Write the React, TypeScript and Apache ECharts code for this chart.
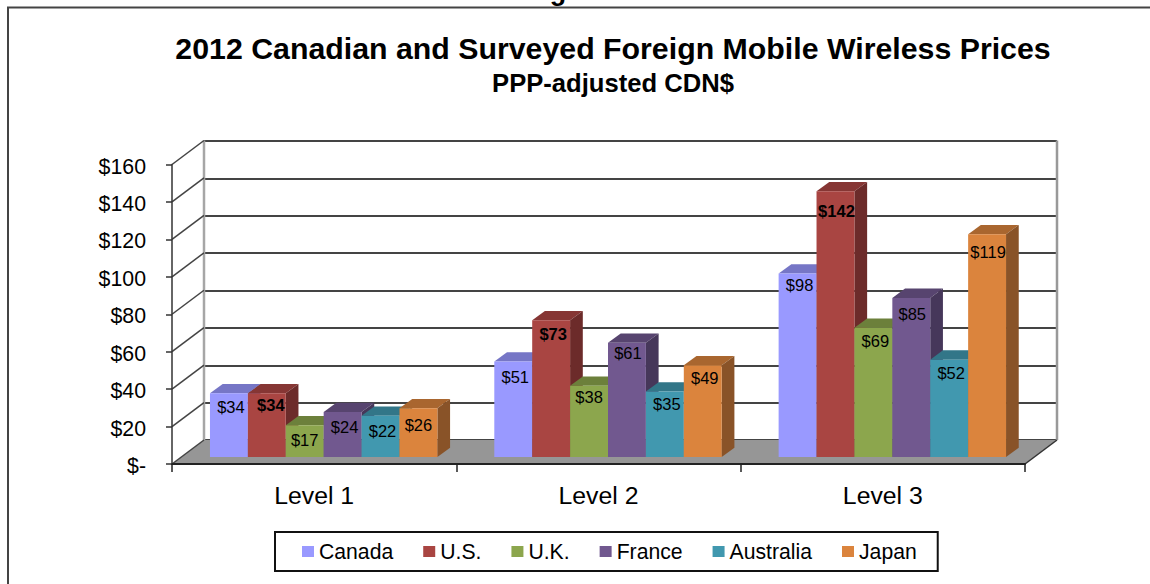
import React, { useEffect, useRef } from "react";
import * as echarts from "echarts";

const levels = ["Level 1", "Level 2", "Level 3"];
const countries = ["Canada", "U.S.", "U.K.", "France", "Australia", "Japan"];
const canada = [34, 51, 98];
const us = [34, 73, 142];
const uk = [17, 38, 69];
const france = [24, 61, 85];
const australia = [22, 35, 52];
const japan = [26, 49, 119];
const seriesValues = [canada, us, uk, france, australia, japan];
const yTicks = [0, 20, 40, 60, 80, 100, 120, 140, 160];
const colors = ["#9999FF", "#A94542", "#8CA64D", "#71588F", "#4198AF", "#DB843D"];
const topColors = ["#7676C6", "#863634", "#6C803B", "#57446F", "#327688", "#A9662F"];
const sideColors = ["#5F5F9F", "#6C2B2A", "#576731", "#46375A", "#285F6E", "#895328"];

// label placement relative to each bar's top front edge: [dx, dy] per level
const labelNudges = [
  [[2, 13.5], [2, 15.6], [2, 11.5]],
  [[4, 11.5], [2, 13.3], [1, 20]],
  [[0, 15], [0, 11], [2, 13]],
  [[2, 15], [1, 10.3], [1, 16]],
  [[2, 15], [2, 13], [2, 13]],
  [[0, 17], [2, 13], [1, 18]],
];

const FONT = "'Liberation Sans', Arial, sans-serif";
const WALL_DX = 32;
const WALL_DY = -24;
const BAR_DX = 9.5; // bars stand a little behind the front edge of the floor
const BAR_DY = -7;
const DEPTH_DX = 12.7;
const DEPTH_DY = -9.3;

function barRenderer(si: number) {
  return (_params: any, api: any) => {
    const cat = api.value(0);
    const val = api.value(1);
    const [cx, yTop] = api.coord([cat, val]);
    const [, yBase] = api.coord([cat, 0]);
    const w = api.size([1, 0])[0] * 0.1333;
    const x0 = cx + BAR_DX + (si - 3) * w;
    const y0 = yTop + BAR_DY;
    const y1 = yBase + BAR_DY;
    const [ndx, ndy] = labelNudges[si][cat];
    return {
      type: "group",
      children: [
        {
          type: "polygon",
          shape: { points: [[x0, y0], [x0 + w, y0], [x0 + w + DEPTH_DX, y0 + DEPTH_DY], [x0 + DEPTH_DX, y0 + DEPTH_DY]] },
          style: { fill: topColors[si] },
        },
        {
          type: "polygon",
          shape: { points: [[x0 + w, y0], [x0 + w + DEPTH_DX, y0 + DEPTH_DY], [x0 + w + DEPTH_DX, y1 + DEPTH_DY], [x0 + w, y1]] },
          style: { fill: sideColors[si] },
        },
        {
          type: "rect",
          shape: { x: x0, y: y0, width: w, height: y1 - y0 },
          style: { fill: colors[si] },
        },
        {
          type: "text",
          z2: 50,
          style: {
            x: x0 + w / 2 + ndx,
            y: y0 + ndy,
            text: "$" + val,
            fill: "#000",
            font: `${si === 1 ? "bold " : ""}16.5px ${FONT}`,
            textAlign: "center",
            textVerticalAlign: "middle",
          },
        },
      ],
    };
  };
}

function frameRenderer(params: any, api: any) {
  const val = api.value(1);
  const [, y] = api.coord([0, val]);
  const x0 = params.coordSys.x;
  const w = params.coordSys.width;
  const h = params.coordSys.height;
  const children: any[] = [
    {
      type: "line",
      shape: { x1: x0, y1: y, x2: x0 + WALL_DX, y2: y + WALL_DY },
      style: { stroke: "#444", lineWidth: 1.5 },
    },
  ];
  if (val === 0) {
    children.unshift(
      {
        type: "line",
        shape: { x1: x0 + WALL_DX, y1: y + WALL_DY - h, x2: x0 + WALL_DX, y2: y + WALL_DY },
        style: { stroke: "#A6A6A6", lineWidth: 2.5 },
      },
      {
        type: "line",
        shape: { x1: x0 + w + WALL_DX, y1: y + WALL_DY - h, x2: x0 + w + WALL_DX, y2: y + WALL_DY },
        style: { stroke: "#999", lineWidth: 2.5 },
      },
      {
        type: "polygon",
        shape: { points: [[x0, y], [x0 + w, y], [x0 + w + WALL_DX, y + WALL_DY], [x0 + WALL_DX, y + WALL_DY]] },
        style: { fill: "#969696" },
      },
      {
        type: "line",
        shape: { x1: x0 + w, y1: y, x2: x0 + w + WALL_DX, y2: y + WALL_DY },
        style: { stroke: "#333", lineWidth: 1.5 },
      }
    );
  }
  return { type: "group", children };
}

export default function App() {
  const ref = useRef<HTMLDivElement | null>(null);
  useEffect(() => {
    const chart = echarts.init(ref.current!, null, { renderer: "svg" });
    chart.setOption({
      animation: false,
      backgroundColor: "#fff",
      textStyle: { fontFamily: FONT },
      title: [
        {
          text: "2012 Canadian and Surveyed Foreign Mobile Wireless Prices",
          left: 608,
          top: 28,
          textAlign: "center",
          textStyle: { fontSize: 30.3, fontWeight: "bold", color: "#000", fontFamily: FONT },
        },
        {
          text: "PPP-adjusted CDN$",
          left: 608,
          top: 65,
          textAlign: "center",
          textStyle: { fontSize: 25.6, fontWeight: "bold", color: "#000", fontFamily: FONT },
        },
      ],
      grid: [
        { left: 172, top: 164.5, width: 853, height: 299.5 },
        { left: 204, top: 141, width: 853, height: 299 },
        { left: 172, top: 166.5, width: 853, height: 299.5 },
      ],
      xAxis: [
        {
          type: "category",
          gridIndex: 0,
          data: levels,
          z: 5,
          axisLine: { lineStyle: { color: "#222", width: 2 } },
          axisTick: { show: true, length: 8, lineStyle: { color: "#222", width: 1.5 } },
          axisLabel: { fontSize: 24.8, color: "#000", margin: 19, fontFamily: FONT },
          splitLine: { show: false },
        },
        { type: "category", gridIndex: 1, data: levels, show: false },
        { type: "category", gridIndex: 2, data: levels, show: false },
      ],
      yAxis: [
        {
          type: "value",
          gridIndex: 0,
          min: 0,
          max: 160,
          interval: 20,
          z: 5,
          axisLine: { show: true, lineStyle: { color: "#333", width: 1.5 } },
          axisTick: { show: true, length: 6, lineStyle: { color: "#333", width: 1.5 } },
          axisLabel: { show: false },
          splitLine: { show: false },
        },
        {
          type: "value",
          gridIndex: 1,
          min: 0,
          max: 160,
          interval: 20,
          z: 0,
          axisLine: { show: false },
          axisTick: { show: false },
          axisLabel: { show: false },
          splitLine: { show: true, lineStyle: { color: "#444", width: 2 } },
        },
        {
          // carries the tick labels, which sit slightly below their ticks
          type: "value",
          gridIndex: 2,
          min: 0,
          max: 160,
          interval: 20,
          axisLine: { show: false },
          axisTick: { show: false },
          splitLine: { show: false },
          axisLabel: {
            fontSize: 21.3,
            color: "#000",
            margin: 26,
            fontFamily: FONT,
            formatter: (v: number) => (v === 0 ? "$-" : "$" + v),
          },
        },
      ],
      legend: {
        data: countries,
        left: 275,
        top: 532,
        orient: "horizontal",
        icon: "rect",
        itemWidth: 12,
        itemHeight: 11,
        itemGap: 30,
        padding: [9, 21, 9, 27],
        borderColor: "#111",
        borderWidth: 2,
        backgroundColor: "#fff",
        selectedMode: false,
        textStyle: { fontSize: 21.2, color: "#000", fontFamily: FONT },
      },
      series: [
        {
          type: "custom",
          name: "frame",
          xAxisIndex: 0,
          yAxisIndex: 0,
          z: 1,
          silent: true,
          data: yTicks.map((v) => [0, v]),
          encode: { x: 0, y: 1 },
          renderItem: frameRenderer,
        },
        ...countries.map((name, si) => ({
          type: "custom",
          name,
          xAxisIndex: 0,
          yAxisIndex: 0,
          z: 2,
          silent: true,
          itemStyle: { color: colors[si] },
          data: seriesValues[si].map((v, c) => [c, v]),
          encode: { x: 0, y: 1 },
          renderItem: barRenderer(si),
        })),
      ],
      graphic: [
        {
          type: "polyline",
          silent: true,
          shape: { points: [[8, 584], [8, 7.5], [1150, 7.5]] },
          style: { stroke: "#444", lineWidth: 2, fill: "none" },
        },
        {
          type: "text",
          silent: true,
          style: {
            x: 558,
            y: 4,
            text: "g",
            fill: "#000",
            font: `bold 27px ${FONT}`,
            textAlign: "center",
            textVerticalAlign: "bottom",
          },
        },
      ],
    });
    return () => chart.dispose();
  }, []);
  return (
    <div
      ref={ref}
      style={{ position: "fixed", left: 0, top: 0, width: 1150, height: 584, background: "#fff" }}
    />
  );
}
